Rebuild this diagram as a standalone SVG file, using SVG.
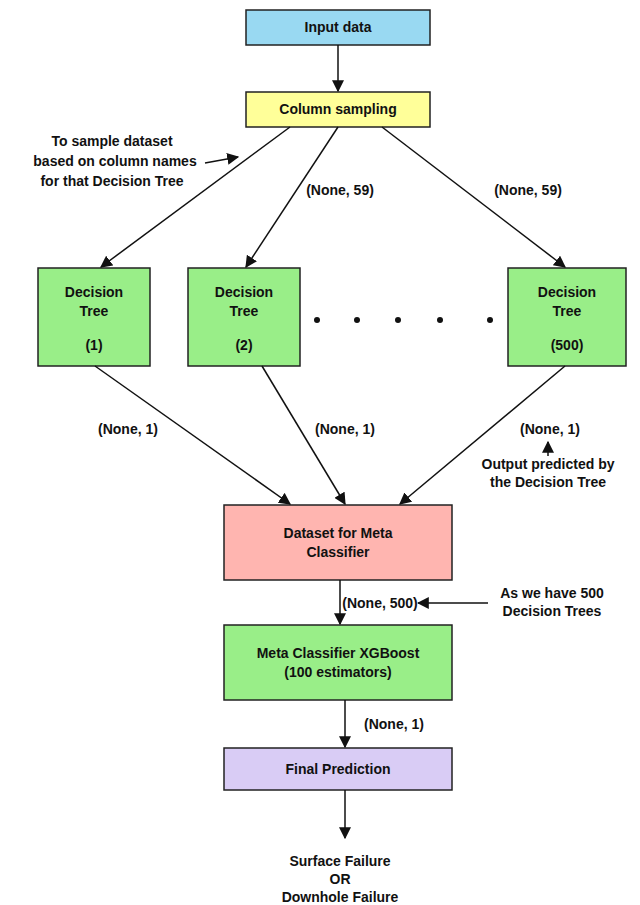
<svg xmlns="http://www.w3.org/2000/svg" width="640" height="905" viewBox="0 0 640 905">
<defs>
<marker id="ah" viewBox="0 0 10 10" refX="9" refY="5" markerWidth="8" markerHeight="8" orient="auto"><path d="M0,0L10,5L0,10z" fill="#111"/></marker>
</defs>
<style>
.n{stroke:#222;stroke-width:1.5}
text{font-family:"Liberation Sans",Arial,sans-serif;font-weight:bold;font-size:14px;fill:#111;text-anchor:middle}
.c line{stroke:#111;stroke-width:1.5;marker-end:url(#ah)}
</style>
<rect width="640" height="905" fill="#fff"/>
<g id="input"><rect class="n" x="246" y="10" width="184" height="35" fill="#99d9f2"/><text x="338" y="32">Input data</text></g>
<g id="colsamp"><rect class="n" x="246" y="92" width="184" height="35" fill="#ffff99"/><text x="338" y="114">Column sampling</text></g>
<g id="dt1"><rect class="n" x="38" y="268" width="112" height="98" fill="#99ee88"/><text x="94" y="297">Decision</text><text x="94" y="316">Tree</text><text x="94" y="350">(1)</text></g>
<g id="dt2"><rect class="n" x="188" y="268" width="112" height="98" fill="#99ee88"/><text x="244" y="297">Decision</text><text x="244" y="316">Tree</text><text x="244" y="350">(2)</text></g>
<g id="dt500"><rect class="n" x="508" y="268" width="118" height="98" fill="#99ee88"/><text x="567" y="297">Decision</text><text x="567" y="316">Tree</text><text x="567" y="350">(500)</text></g>
<g id="dots" fill="#111"><circle cx="317" cy="320" r="3"/><circle cx="357" cy="320" r="3"/><circle cx="398" cy="320" r="3"/><circle cx="440" cy="320" r="3"/><circle cx="490" cy="320" r="3"/></g>
<g id="dataset"><rect class="n" x="224" y="505" width="228" height="75" fill="#ffb5b0"/><text x="338" y="538">Dataset for Meta</text><text x="338" y="557">Classifier</text></g>
<g id="meta"><rect class="n" x="224" y="625" width="228" height="75" fill="#99ee88"/><text x="338" y="658">Meta Classifier XGBoost</text><text x="338" y="677">(100 estimators)</text></g>
<g id="final"><rect class="n" x="224" y="748" width="228" height="42" fill="#d9ccf5"/><text x="338" y="774">Final Prediction</text></g>
<g class="c" id="connectors">
<line x1="338" y1="45" x2="338" y2="91"/>
<line x1="290" y1="127" x2="101" y2="267"/>
<line x1="338" y1="127" x2="246" y2="267"/>
<line x1="382" y1="127" x2="565" y2="267"/>
<line x1="95" y1="366" x2="290" y2="504"/>
<line x1="262" y1="366" x2="345" y2="504"/>
<line x1="565" y1="366" x2="400" y2="504"/>
<line x1="340" y1="580" x2="340" y2="624"/>
<line x1="345" y1="700" x2="345" y2="747"/>
<line x1="345" y1="790" x2="345" y2="838"/>
<line x1="205" y1="163" x2="238" y2="157"/>
<line x1="548" y1="456" x2="548" y2="442"/>
<line x1="488" y1="603" x2="418" y2="603"/>
</g>
<g id="labels">
<text x="112" y="146">To sample dataset</text>
<text x="115" y="166">based on column names</text>
<text x="112" y="186">for that Decision Tree</text>
<text x="340" y="195">(None, 59)</text>
<text x="528" y="195">(None, 59)</text>
<text x="128" y="434">(None, 1)</text>
<text x="345" y="434">(None, 1)</text>
<text x="550" y="434">(None, 1)</text>
<text x="548" y="469">Output predicted by</text>
<text x="548" y="487">the Decision Tree</text>
<text x="380" y="608">(None, 500)</text>
<text x="552" y="598">As we have 500</text>
<text x="552" y="616">Decision Trees</text>
<text x="394" y="729">(None, 1)</text>
<text x="340" y="866">Surface Failure</text>
<text x="340" y="884">OR</text>
<text x="340" y="902">Downhole Failure</text>
</g>
</svg>
